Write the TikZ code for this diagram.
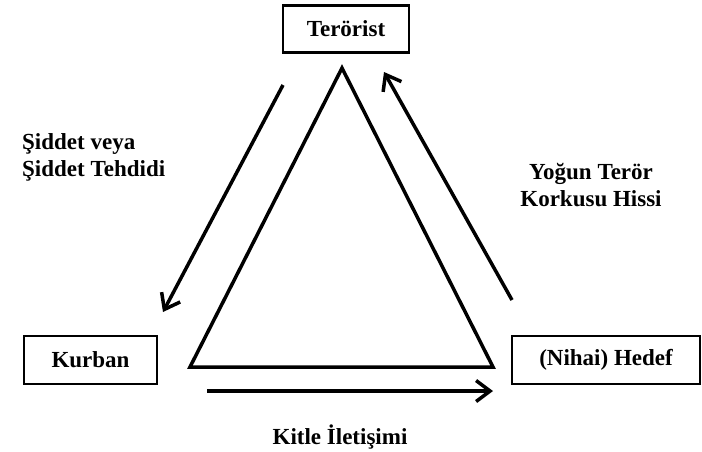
\documentclass[tikz,border=0pt]{standalone}
\usepackage{fontspec}
\setmainfont{Liberation Serif}
\usepackage{tikz}
\usetikzlibrary{arrows,arrows.meta,positioning,calc}

\begin{document}
\begin{tikzpicture}[x = 1pt, y = -1pt,
    box/.style = {draw, line width = 2.5pt, inner sep = 0pt},
    lbl/.style = {font = \fontsize{23}{27}\selectfont\bfseries, inner sep = 0pt},
    arr/.style = {-{Straight Barb[length=14pt, width=21pt]}, line width = 3.5pt}]
    \useasboundingbox (0,0) rectangle (702,451);
    \node[box, lbl, minimum width = 126pt, minimum height = 47pt] (ter) at (346,29) {Terörist};
    \node[box, lbl, minimum width = 133pt, minimum height = 48pt] (kur) at (90.5,360) {Kurban};
    \node[box, lbl, minimum width = 188pt, minimum height = 48pt] (hed) at (606,360) {(Nihai) Hedef};
    \node[lbl, align = left, anchor = west] (sid) at (22,157) {Şiddet veya\\Şiddet Tehdidi};
    \node[lbl, align = center] (kor) at (591,185) {Yoğun Terör\\Korkusu Hissi};
    \node[lbl] (kit) at (340,437) {Kitle İletişimi};
    % triangle
    \coordinate (top) at (342,68);
    \coordinate (bl) at (190,367);
    \coordinate (br) at (493,367);
    \draw[line width = 3.5pt, line join = miter] (top) -- (bl) -- (br) -- cycle;
    % arrows
    \coordinate (s1) at (283,85);
    \coordinate (e1) at (163,312);
    \coordinate (s2) at (512,300);
    \coordinate (e2) at (384,72);
    \coordinate (s3) at (207,391);
    \coordinate (e3) at (493,391);
    \draw[arr] (s1) -- (e1);
    \draw[arr] (s2) -- (e2);
    \draw[arr] (s3) -- (e3);
\end{tikzpicture}
\end{document}
